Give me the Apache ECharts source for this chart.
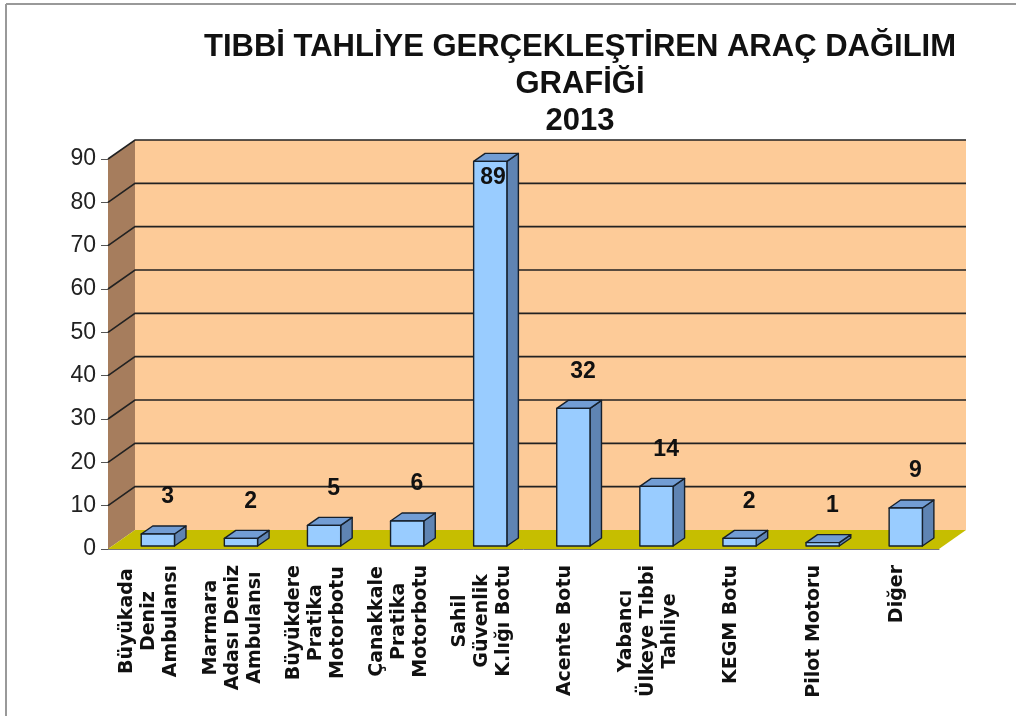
<!DOCTYPE html>
<html lang="tr">
<head>
    <meta charset="UTF-8">
    <title>Tıbbi Tahliye Araç Dağılım Grafiği 2013</title>
    <script src="https://cdn.jsdelivr.net/npm/echarts@6/dist/echarts.min.js"></script>
    <style>
        html, body { margin: 0; padding: 0; background: #fff; }
        #main { width: 1016px; height: 716px; }
    </style>
</head>
<body>
<div id="main"></div>
<script>
    // veriler
    var categories = [
        'Büyükada\nDeniz\nAmbulansı',
        'Marmara\nAdası Deniz\nAmbulansı',
        'Büyükdere\nPratika\nMotorbotu',
        'Çanakkale\nPratika\nMotorbotu',
        'Sahil\nGüvenlik\nK.lığı Botu',
        'Acente Botu',
        'Yabancı\nÜlkeye Tıbbi\nTahliye',
        'KEGM Botu',
        'Pilot Motoru',
        'Diğer'
    ];
    var values = [3, 2, 5, 6, 89, 32, 14, 2, 1, 9];
    var yTicks = [0, 10, 20, 30, 40, 50, 60, 70, 80, 90];

    // 3B görünüm için derinlik
    var DX = 27, DY = -19;
    var catFont = 'bold 19px "DejaVu Sans"';

    var ctx = document.createElement('canvas').getContext('2d');
    ctx.font = catFont;
    function blockWidth(txt) {
        var w = 0;
        txt.split('\n').forEach(function (s) { w = Math.max(w, ctx.measureText(s).width); });
        return w;
    }

    var myChart = echarts.init(document.getElementById('main'));

    var option = {
        backgroundColor: '#fff',
        animation: false,
        title: {
            text: 'TIBBİ TAHLİYE GERÇEKLEŞTİREN ARAÇ DAĞILIM\nGRAFİĞİ\n2013',
            left: 580,
            top: 29,
            padding: 0,
            textAlign: 'center',
            textStyle: {
                fontFamily: 'Liberation Sans',
                fontSize: 31,
                fontWeight: 'bold',
                lineHeight: 37,
                color: '#111'
            }
        },
        graphic: [
            { type: 'line', shape: { x1: 6, y1: 4, x2: 1016, y2: 4 }, style: { stroke: '#999', lineWidth: 2 } },
            { type: 'line', shape: { x1: 6, y1: 4, x2: 6, y2: 716 }, style: { stroke: '#999', lineWidth: 2 } }
        ],
        grid: { left: 108, right: 77, top: 159, bottom: 167 },
        xAxis: {
            type: 'category',
            data: categories,
            axisLine: { lineStyle: { color: '#777', width: 1 } },
            axisTick: { length: 9, lineStyle: { color: '#777' } },
            axisLabel: { show: false },
            splitLine: { show: false }
        },
        yAxis: {
            type: 'value',
            min: 0,
            max: 90,
            interval: 10,
            axisLine: { show: true, lineStyle: { color: '#555' } },
            axisTick: { show: true, length: 7, lineStyle: { color: '#555' } },
            axisLabel: {
                margin: 12,
                fontFamily: 'Liberation Sans',
                fontSize: 23,
                color: '#222'
            },
            splitLine: { show: false }
        },
        series: [
            {
                // duvarlar, zemin ve kılavuz çizgileri
                type: 'custom',
                silent: true,
                z: 1,
                data: [0],
                renderItem: function (params, api) {
                    var cs = params.coordSys;
                    var x0 = cs.x, x1 = cs.x + cs.width;
                    var yTop = api.coord([0, yTicks[yTicks.length - 1]])[1];
                    var y0 = api.coord([0, 0])[1];
                    var children = [
                        { type: 'polygon', shape: { points: [[x0 + DX, yTop + DY], [x1 + DX, yTop + DY], [x1 + DX, y0 + DY], [x0 + DX, y0 + DY]] },
                          style: { fill: '#FDCB98' } },
                        { type: 'polygon', shape: { points: [[x0, y0], [x0 + DX, y0 + DY], [x0 + DX, yTop + DY], [x0, yTop]] },
                          style: { fill: '#A67D5D' } },
                        { type: 'polygon', shape: { points: [[x0, y0], [x1, y0], [x1 + DX, y0 + DY], [x0 + DX, y0 + DY]] },
                          style: { fill: '#C6BE00' } }
                    ];
                    yTicks.forEach(function (t) {
                        if (t === 0) return;
                        var y = api.coord([0, t])[1];
                        children.push({ type: 'polyline', shape: { points: [[x0, y], [x0 + DX, y + DY], [x1 + DX, y + DY]] },
                            style: { stroke: '#222', lineWidth: 1.6, fill: null } });
                    });
                    return { type: 'group', children: children };
                }
            },
            {
                // 3B sütunlar
                type: 'custom',
                name: '2013',
                z: 3,
                clip: false,
                data: values.map(function (v, i) { return [i, v]; }),
                encode: { x: 0, y: 1 },
                renderItem: function (params, api) {
                    var i = api.value(0), v = api.value(1);
                    var topPt = api.coord([i, v]);
                    var basePt = api.coord([i, 0]);
                    var bw = api.size([1, 0])[0];
                    var cx = topPt[0];
                    var L = cx - 0.10 * bw, R = L + 0.40 * bw;
                    var bot = basePt[1] - 3, top = topPt[1] - 2;
                    var dx = 11.5, dy = -8;
                    var stroke = { stroke: '#16202c', lineWidth: 1.4, lineJoin: 'round' };
                    var labelY = top - 37, labelX = cx + 18;
                    if (labelY < params.coordSys.y) { labelY = top + 16; labelX = cx + 11; }
                    var name = categories[i];
                    var bwText = blockWidth(name);
                    return {
                        type: 'group',
                        children: [
                            { type: 'polygon', shape: { points: [[R, bot], [R + dx, bot + dy], [R + dx, top + dy], [R, top]] },
                              style: Object.assign({ fill: '#5F84B3' }, stroke) },
                            { type: 'polygon', shape: { points: [[L, top], [R, top], [R + dx, top + dy], [L + dx, top + dy]] },
                              style: Object.assign({ fill: '#729DD4' }, stroke) },
                            { type: 'rect', shape: { x: L, y: top, width: R - L, height: bot - top },
                              style: Object.assign({ fill: '#99CCFF' }, stroke) },
                            { type: 'text', x: labelX, y: labelY, z2: 10,
                              style: { text: String(v), align: 'center', verticalAlign: 'middle',
                                       font: 'bold 23px "Liberation Sans"', fill: '#111' } },
                            { type: 'text', x: cx, y: basePt[1] + 16 + bwText / 2, rotation: Math.PI / 2,
                              style: { text: name, align: 'center', verticalAlign: 'middle',
                                       font: catFont, lineHeight: 22, fill: '#111' } }
                        ]
                    };
                }
            }
        ]
    };

    myChart.setOption(option);
</script>
</body>
</html>
